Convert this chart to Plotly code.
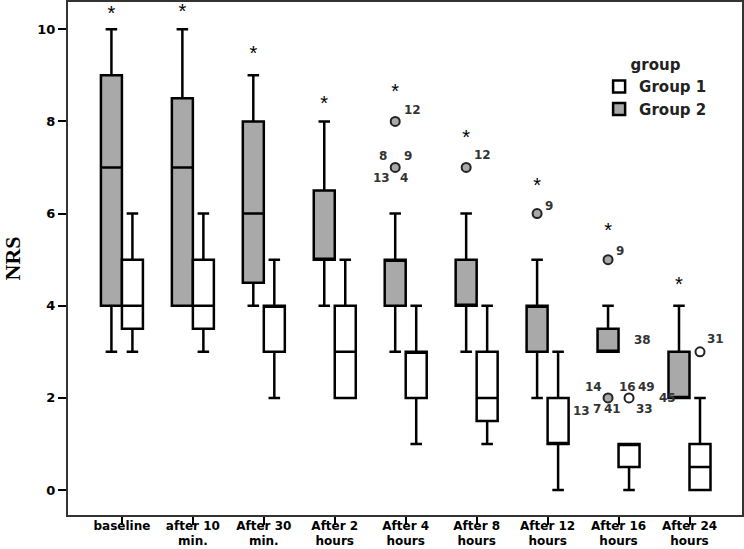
import plotly.graph_objects as go

# ---------------- data ----------------
categories = ["baseline\n", "after 10\nmin.", "After 30\nmin.", "After 2\nhours",
              "After 4\nhours", "After 8\nhours", "After 12\nhours",
              "After 16\nhours", "After 24\nhours"]

# Group 2 (grey)
g2_low = [3, 4, 4, 4, 3, 3, 2, 3, 2]
g2_q1 = [4, 4, 4.5, 5, 4, 4, 3, 3, 2]
g2_med = [7, 7, 6, 5, 5, 4, 4, 3, 2]
g2_q3 = [9, 8.5, 8, 6.5, 5, 5, 4, 3.5, 3]
g2_high = [10, 10, 9, 8, 6, 6, 5, 4, 4]

# Group 1 (white)
g1_low = [3, 3, 2, 2, 1, 1, 0, 0, 0]
g1_q1 = [3.5, 3.5, 3, 2, 2, 1.5, 1, 0.5, 0]
g1_med = [4, 4, 4, 3, 3, 2, 1, 1, 0.5]
g1_q3 = [5, 5, 4, 4, 3, 3, 2, 1, 1]
g1_high = [6, 6, 5, 5, 4, 4, 3, 1, 2]

# outliers (category index, value)
g2_out_cat = [4, 4, 5, 6, 7, 7]
g2_out_val = [8, 7, 7, 6, 5, 2]
g1_out_cat = [7, 8]
g1_out_val = [2, 3]

# significance asterisk heights (above Group 2)
sig_val = [10.3, 10.35, 9.45, 8.35, 8.62, 7.62, 6.57, 5.6, 4.42]

# outlier case labels: (group, category, value, text)
case_labels = [
    (2, 4, 8, "12"),
    (2, 4, 7, "8"), (2, 4, 7, "9"), (2, 4, 7, "13"), (2, 4, 7, "4"),
    (2, 5, 7, "12"),
    (2, 6, 6, "9"),
    (2, 7, 5, "9"),
    (2, 7, 3, "38"),
    (2, 7, 2, "14"), (2, 7, 2, "13"), (2, 7, 2, "7"), (2, 7, 2, "41"),
    (1, 7, 2, "16"), (1, 7, 2, "49"), (1, 7, 2, "33"), (1, 7, 2, "45"),
    (1, 8, 3, "31"),
]
# pixel offsets of each case label (style)
label_shift = [
    (17, 11),
    (-12, 11), (13, 11), (-14, -11), (9, -11),
    (16, 12),
    (12, 8),
    (12, 9),
    (34, 12),
    (-15, 11), (-27, -13), (-11, -11), (4, -11),
    (-2, 11), (17, 11), (15, -11), (38, 0),
    (15, 13),
]

# ---------------- style ----------------
GREY = "#a9a9a9"
SANS = "DejaVu Sans"
BOXGAP = 0.408
OFF = (1 - BOXGAP) / 4  # centre offset of each box in a pair
xs = list(range(len(categories)))
line1 = [c.split("\n")[0] for c in categories]
line2 = [c.split("\n")[1] for c in categories]
XRANGE = [-0.76, 8.74]

fig = go.Figure()

fig.add_trace(go.Box(
    name="Group 2", x=xs, q1=g2_q1, median=g2_med, q3=g2_q3,
    lowerfence=g2_low, upperfence=g2_high, boxpoints=False,
    fillcolor=GREY, line=dict(color="black", width=2.5), whiskerwidth=0.55,
    legendrank=2,
))
fig.add_trace(go.Box(
    name="Group 1", x=xs, q1=g1_q1, median=g1_med, q3=g1_q3,
    lowerfence=g1_low, upperfence=g1_high, boxpoints=False,
    fillcolor="white", line=dict(color="black", width=2.5), whiskerwidth=0.55,
    legendrank=1,
))

fig.add_trace(go.Scatter(
    x=[c - OFF for c in g2_out_cat], y=g2_out_val, mode="markers",
    marker=dict(symbol="circle", size=9, color=GREY, line=dict(color="#222", width=2)),
    showlegend=False, hoverinfo="skip",
))
fig.add_trace(go.Scatter(
    x=[c + OFF for c in g1_out_cat], y=g1_out_val, mode="markers",
    marker=dict(symbol="circle", size=9, color="white", line=dict(color="#222", width=2)),
    showlegend=False, hoverinfo="skip",
))
fig.add_trace(go.Scatter(
    x=[c - OFF for c in xs], y=sig_val, mode="text", text=["*"] * len(xs),
    textfont=dict(family="Liberation Sans", size=20, color="black"),
    textposition="middle center",
    showlegend=False, hoverinfo="skip",
))
# invisible trace to carry the second line of the category labels
fig.add_trace(go.Scatter(
    x=xs, y=[None] * len(xs), xaxis="x2", yaxis="y", mode="markers",
    showlegend=False, hoverinfo="skip",
))

for (grp, cat, val, txt), (dx, dy) in zip(case_labels, label_shift):
    fig.add_annotation(
        x=cat - OFF if grp == 2 else cat + OFF, y=val, text=txt, showarrow=False,
        xshift=dx, yshift=dy,
        font=dict(family=SANS, size=12, color="#333", weight="bold"),
    )

fig.update_layout(
    width=744, height=549,
    margin=dict(l=68, r=2, t=2, b=34),
    paper_bgcolor="white", plot_bgcolor="white",
    boxmode="group", boxgap=BOXGAP, boxgroupgap=0,
    font=dict(family=SANS, color="black"),
    legend=dict(
        title=dict(text="<b>group</b>", font=dict(size=15, family=SANS), side="top center"),
        x=0.788, y=0.905, xanchor="left", yanchor="top",
        font=dict(size=15, family=SANS, weight="bold", color="#222"),
        bgcolor="rgba(0,0,0,0)", tracegroupgap=0,
    ),
    xaxis=dict(
        range=XRANGE, tickvals=xs, ticktext=line1, automargin=False,
        showline=True, mirror=True, linecolor="#333", linewidth=2,
        ticks="outside", ticklen=8, tickwidth=2, tickcolor="black",
        showgrid=False, zeroline=False, ticklabelstandoff=-9,
        tickfont=dict(size=12, family=SANS, weight="bold"),
    ),
    xaxis2=dict(
        range=XRANGE, tickvals=xs, ticktext=line2, automargin=False,
        overlaying="x", side="bottom", anchor="y", matches="x",
        showline=False, ticks="", showgrid=False, zeroline=False,
        ticklabelstandoff=17,
        tickfont=dict(size=12, family=SANS, weight="bold"),
    ),
    yaxis=dict(
        range=[-0.54, 10.59], tickvals=[0, 2, 4, 6, 8, 10], automargin=False,
        showline=True, mirror=True, linecolor="#333", linewidth=2,
        ticks="outside", ticklen=8, tickwidth=2, tickcolor="black",
        showgrid=False, zeroline=False,
        tickfont=dict(size=13, family=SANS, weight="bold"),
        title=dict(text="<b>NRS</b>", font=dict(size=22, family="Liberation Serif"), standoff=37),
    ),
)

fig.write_html("out.html")
